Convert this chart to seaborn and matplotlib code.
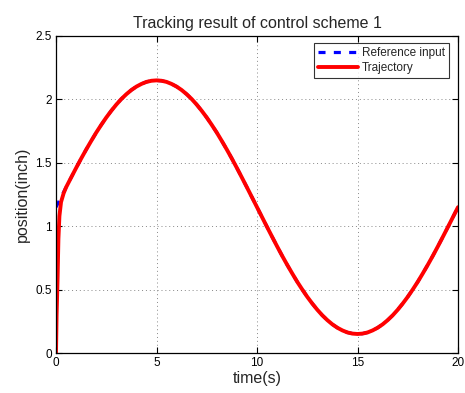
import numpy as np
import pandas as pd
import matplotlib
matplotlib.use('Agg')
import matplotlib.pyplot as plt
import seaborn as sns

# reference input, every 0.25 s
time_ref = [0, 0.25, 0.5, 0.75, 1, 1.25, 1.5, 1.75, 2, 2.25, 2.5, 2.75, 3, 3.25, 3.5, 3.75,
            4, 4.25, 4.5, 4.75, 5, 5.25, 5.5, 5.75, 6, 6.25, 6.5, 6.75, 7, 7.25, 7.5, 7.75,
            8, 8.25, 8.5, 8.75, 9, 9.25, 9.5, 9.75, 10, 10.25, 10.5, 10.75, 11, 11.25, 11.5,
            11.75, 12, 12.25, 12.5, 12.75, 13, 13.25, 13.5, 13.75, 14, 14.25, 14.5, 14.75,
            15, 15.25, 15.5, 15.75, 16, 16.25, 16.5, 16.75, 17, 17.25, 17.5, 17.75, 18,
            18.25, 18.5, 18.75, 19, 19.25, 19.5, 19.75, 20]
ref_input = [1.150, 1.228, 1.306, 1.383, 1.459, 1.533, 1.604, 1.672, 1.738, 1.799, 1.857,
             1.910, 1.959, 2.003, 2.041, 2.074, 2.101, 2.122, 2.138, 2.147, 2.150, 2.147,
             2.138, 2.122, 2.101, 2.074, 2.041, 2.003, 1.959, 1.910, 1.857, 1.799, 1.738,
             1.672, 1.604, 1.533, 1.459, 1.383, 1.306, 1.228, 1.150, 1.072, 0.994, 0.917,
             0.841, 0.767, 0.696, 0.628, 0.562, 0.501, 0.443, 0.390, 0.341, 0.297, 0.259,
             0.226, 0.199, 0.178, 0.162, 0.153, 0.150, 0.153, 0.162, 0.178, 0.199, 0.226,
             0.259, 0.297, 0.341, 0.390, 0.443, 0.501, 0.562, 0.628, 0.696, 0.767, 0.841,
             0.917, 0.994, 1.072, 1.150]

# trajectory start-up transient, then it sits on the reference
time_start = [0, 0.03, 0.08, 0.12, 0.17, 0.25, 0.38]
traj_start = [0, 0.30, 0.60, 0.90, 1.08, 1.19, 1.26]

time_traj = time_start + time_ref[2:]
trajectory = traj_start + ref_input[2:]

df_ref = pd.DataFrame({'t': time_ref, 'y': ref_input})
df_traj = pd.DataFrame({'t': time_traj, 'y': trajectory})

sns.set_style('white')
plt.rcParams['font.family'] = ['Liberation Sans', 'DejaVu Sans']

fig = plt.figure(figsize=(4.65, 3.93), dpi=100)
ax = fig.add_axes([56/465, 1-353/393, 402/465, 317/393])

sns.lineplot(data=df_ref, x='t', y='y', ax=ax, color='#0000ff', lw=2.3,
             linestyle=(0, (2.2, 2.6)), label='Reference input', sort=False)
sns.lineplot(data=df_traj, x='t', y='y', ax=ax, color='#ff0000', lw=2.8,
             label='Trajectory', sort=False)

ax.set_xlim(0, 20)
ax.set_ylim(0, 2.5)
ax.set_xticks([0, 5, 10, 15, 20])
ax.set_yticks([0, 0.5, 1, 1.5, 2, 2.5])
ax.set_xticklabels(['0', '5', '10', '15', '20'])
ax.set_yticklabels(['0', '0.5', '1', '1.5', '2', '2.5'])
ax.tick_params(direction='in', length=4, width=0.8, labelsize=8.5, top=True, right=True,
               bottom=True, left=True, pad=3, colors='black')
ax.grid(True, linestyle=(0, (1, 3)), color='#888888', linewidth=0.7)
for s in ax.spines.values():
    s.set_color('black')
    s.set_linewidth(0.9)

ax.set_xlabel('time(s)', fontsize=11.5, labelpad=1)
ax.set_ylabel('position(inch)', fontsize=11.5, labelpad=4)
ax.set_title('Tracking result of control scheme 1', fontsize=11.5, pad=6)

leg = ax.legend(loc='upper right', bbox_to_anchor=(0.978, 0.979), fontsize=8.5,
                frameon=True, fancybox=False, borderpad=0.35, handlelength=3.4,
                handletextpad=0.3, labelspacing=0.25, borderaxespad=0)
leg.get_frame().set_edgecolor('black')
leg.get_frame().set_linewidth(0.8)

fig.savefig('out.png', dpi=100)
